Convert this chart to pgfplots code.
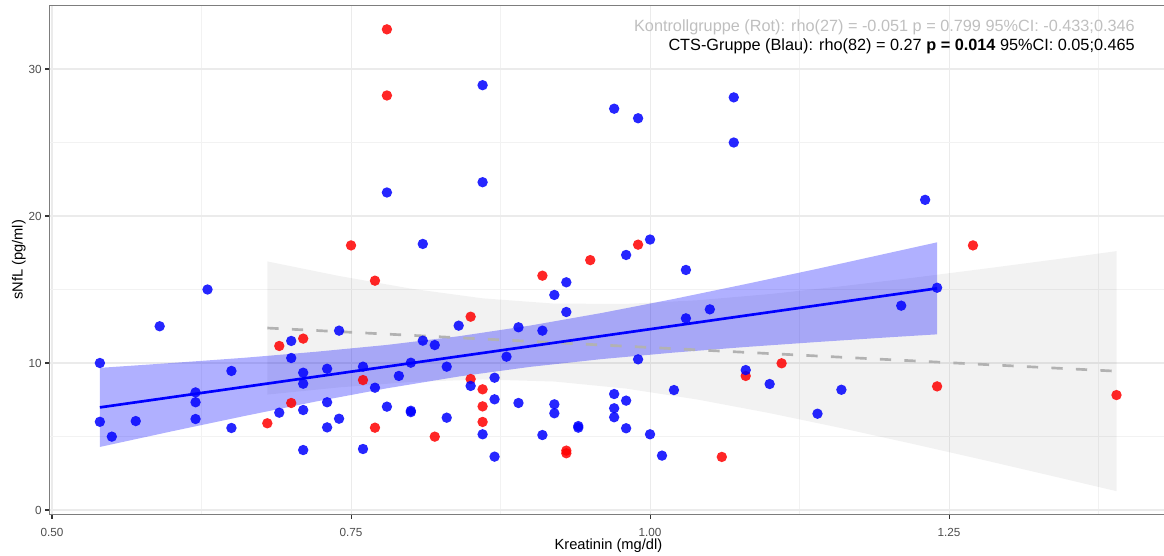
\documentclass[border=0pt]{standalone}
\usepackage{fontspec}
\setmainfont{Liberation Sans}
\usepackage{pgfplots}
\pgfplotsset{compat=1.18}
\definecolor{bordergray}{RGB}{125,125,125}
\definecolor{gridmajor}{RGB}{235,235,235}
\definecolor{gridminor}{RGB}{242,242,242}
\definecolor{tickgray}{RGB}{51,51,51}
\definecolor{ticklab}{RGB}{77,77,77}
\definecolor{ctrltext}{RGB}{191,191,191}
\definecolor{ctrlline}{RGB}{178,178,178}
\begin{document}
\begin{tikzpicture}
\begin{axis}[
  at={(0,0)}, anchor=south west,
  scale only axis, width=837.98pt, height=381.45pt,
  xmin=0.49808, xmax=1.43227, ymin=-0.29, ymax=34.31,
  axis line style={draw=bordergray, line width=0.9pt},
  xtick={0.5,0.75,1,1.25}, xticklabels={0.50,0.75,1.00,1.25},
  ytick={0,10,20,30}, yticklabels={0,10,20,30},
  minor xtick={0.625,0.875,1.125,1.375}, minor ytick={5,15,25},
  grid=both,
  major grid style={draw=gridmajor, line width=0.8pt},
  minor grid style={draw=gridminor, line width=0.5pt},
  tick align=outside, major tick length=3.3pt, minor tick length=0pt,
  xtick pos=bottom, ytick pos=left,
  tick style={draw=tickgray, line width=0.8pt},
  ticklabel style={font=\fontsize{8.8}{10}\selectfont, text=ticklab},
  xticklabel style={anchor=north, inner sep=0pt, yshift=-7pt},
  yticklabel style={anchor=east, inner sep=0pt, xshift=-2.5pt},
  xlabel={Kreatinin (mg/dl)}, ylabel={sNfL (pg/ml)},
  label style={font=\fontsize{11}{13}\selectfont},
  xlabel style={at={(axis description cs:0.5,0)}, anchor=base, yshift=-26.8pt},
  ylabel style={at={(axis description cs:-0.02434,0.5)}, anchor=base},
]
% Kontrollgruppe (rot)
\addplot[only marks, mark=*, mark size=3.9pt, color=red, mark options={draw opacity=0, line width=0pt, fill=red, fill opacity=0.85}] table {
x y
0.78 32.70
0.78 28.20
0.75 18.00
0.77 15.60
0.69 11.16
0.71 11.66
0.70 7.28
0.76 8.84
0.68 5.90
0.77 5.60
0.82 4.99
0.85 13.15
0.85 8.91
0.86 8.21
0.86 7.05
0.86 5.99
0.91 15.94
0.95 17.00
0.99 18.05
0.93 4.04
0.93 3.86
1.06 3.61
1.08 9.12
1.11 9.98
1.24 8.41
1.27 18.00
1.39 7.82
};
% CTS-Gruppe (blau)
\addplot[only marks, mark=*, mark size=3.9pt, color=blue, mark options={draw opacity=0, line width=0pt, fill=blue, fill opacity=0.85}] table {
x y
0.54 10.00
0.59 12.50
0.63 15.00
0.54 6.00
0.55 4.99
0.57 6.05
0.62 8.00
0.62 7.33
0.62 6.19
0.65 9.46
0.65 5.58
0.70 11.50
0.70 10.34
0.69 6.62
0.71 9.34
0.71 8.59
0.71 6.80
0.71 4.08
0.73 9.61
0.73 7.33
0.73 5.62
0.74 12.20
0.74 6.21
0.76 9.75
0.77 8.32
0.76 4.15
0.78 7.03
0.79 9.12
0.80 10.02
0.80 6.75
0.80 6.66
0.81 11.52
0.82 11.22
0.83 9.75
0.83 6.28
0.84 12.54
0.85 8.44
0.86 5.15
0.87 9.00
0.87 7.53
0.87 3.63
0.88 10.43
0.89 12.43
0.89 7.28
0.91 12.20
0.91 5.10
0.92 14.63
0.92 7.19
0.92 6.58
0.93 15.49
0.93 13.47
0.94 5.71
0.94 5.60
0.97 7.89
0.97 6.92
0.97 6.31
0.98 17.35
0.98 7.44
0.98 5.56
0.99 10.25
1.00 5.15
1.01 3.70
1.03 16.33
1.03 13.04
1.05 13.65
1.02 8.16
1.08 9.52
1.10 8.57
1.14 6.55
1.16 8.18
1.21 13.90
1.24 15.12
0.78 21.60
0.86 22.30
0.86 28.90
0.97 27.30
0.99 26.65
1.07 28.07
1.07 25.00
0.81 18.10
1.00 18.40
1.23 21.10
};
% Konfidenzband Kontrollgruppe
\addplot[draw=none, fill=black, fill opacity=0.05] coordinates {
(0.68,16.91) (0.74,15.92) (0.80,15.06) (0.86,14.40) (0.92,14.04) (0.98,14.02) (1.04,14.27) (1.10,14.69) (1.16,15.22) (1.22,15.80) (1.28,16.42) (1.34,17.06) (1.39,17.61)
(1.39,1.28) (1.34,2.24) (1.28,3.38) (1.22,4.49) (1.16,5.57) (1.10,6.59) (1.04,7.51) (0.98,8.26) (0.92,8.74) (0.86,8.88) (0.80,8.71) (0.74,8.34) (0.68,7.85)
} -- cycle;
% Konfidenzband CTS
\addplot[draw=none, fill=blue, fill opacity=0.31] coordinates {
(0.54,9.67) (0.60,10.00) (0.66,10.35) (0.72,10.76) (0.78,11.23) (0.84,11.82) (0.90,12.55) (0.96,13.41) (1.02,14.36) (1.08,15.37) (1.14,16.41) (1.20,17.49) (1.24,18.21)
(1.24,11.95) (1.20,11.75) (1.14,11.43) (1.08,11.09) (1.02,10.71) (0.96,10.27) (0.90,9.74) (0.84,9.08) (0.78,8.28) (0.72,7.37) (0.66,6.38) (0.60,5.35) (0.54,4.29)
} -- cycle;
% Regressionslinien
\addplot[draw=ctrlline, line width=2pt, dash pattern=on 8.5pt off 9.9pt] coordinates {(0.68,12.38) (1.39,9.443)};
\addplot[draw=blue, line width=2pt] coordinates {(0.54,6.98) (1.24,15.079)};
% Annotation
\node[anchor=base east, inner sep=0pt, font=\fontsize{12.2}{14}\selectfont, text=ctrltext] at (axis cs:1.4055,32.585) {Kontrollgruppe (Rot): rho(27) = -0.051 p = 0.799 95\%CI: -0.433;0.346};
\node[anchor=base east, inner sep=0pt, font=\fontsize{12.2}{14}\selectfont, text=black] at (axis cs:1.4055,31.293) {CTS-Gruppe (Blau): rho(82) = 0.27 \textbf{p = 0.014} 95\%CI: 0.05;0.465};
\end{axis}
\pgfresetboundingbox
\path[use as bounding box] (-37.3pt,-31.3pt) rectangle (835.7pt,385.7pt);
\end{tikzpicture}
\end{document}
